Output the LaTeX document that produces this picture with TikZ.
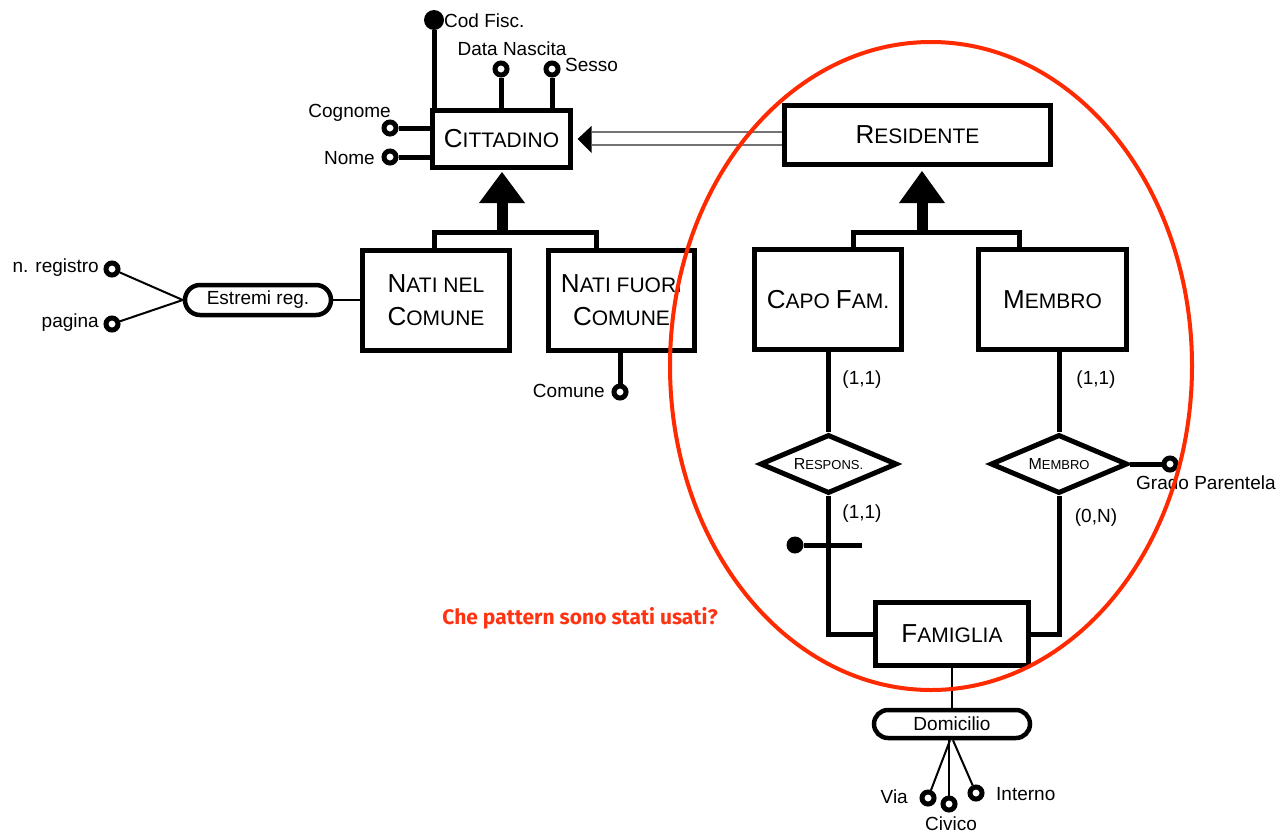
\documentclass[tikz,border=0pt]{standalone}
\usepackage{fontspec}
\setmainfont{Liberation Sans}
\newfontfamily\redfont{Fira Sans}
\usetikzlibrary{shapes.geometric,shapes.misc,calc}
\definecolor{redc}{HTML}{FF2A00}
\definecolor{redt}{HTML}{FF3311}
\newcommand{\ER}[2]{{\fontsize{26}{33}\selectfont #1}{\fontsize{21}{33}\selectfont #2}}
\newcommand{\RL}[2]{{\fontsize{16}{19}\selectfont #1}{\fontsize{13}{19}\selectfont #2}}
\begin{document}
\begin{tikzpicture}[x=1pt,y=-1pt,line join=miter,
  ent/.style={draw,line width=5pt,inner sep=0pt,fill=white,align=center,font=\fontsize{21}{33}\selectfont},
  rel/.style={diamond,draw,line width=5pt,inner sep=0pt,fill=white,aspect=2.3,minimum width=137pt,minimum height=59pt},
  pill/.style={rounded rectangle,draw,line width=4.5pt,inner sep=0pt,fill=white,font=\fontsize{19}{22}\selectfont},
  attr/.style={circle,draw,line width=5pt,fill=white,inner sep=0pt,minimum size=12pt},
  keyattr/.style={circle,fill=black,inner sep=0pt,minimum size=20pt},
  lbl/.style={inner sep=0pt,font=\fontsize{19}{22}\selectfont},
  conn/.style={line width=5pt},
  thinconn/.style={line width=2pt},
  dline/.style={line width=1.5pt,black!55}]
\useasboundingbox (0,0) rectangle (1285,833);
\fill[white] (0,0) rectangle (1285,833);

% entities
\node[ent,minimum width=138pt,minimum height=57pt] (citt) at (501.5,139) {\ER{C}{ITTADINO}};
\node[ent,minimum width=266pt,minimum height=59pt] (res) at (917.5,135) {\ER{R}{ESIDENTE}};
\node[ent,minimum width=147pt,minimum height=100pt] (nnel) at (436,300.5) {\ER{N}{ATI NEL}\\\ER{C}{OMUNE}};
\node[ent,minimum width=146pt,minimum height=100pt] (nfuori) at (621.5,300.5) {\ER{N}{ATI FUORI}\\\ER{C}{OMUNE}};
\node[ent,minimum width=147pt,minimum height=100pt] (capo) at (828,299.5) {\ER{C}{APO} \ER{F}{AM.}};
\node[ent,minimum width=148pt,minimum height=100pt] (memb) at (1052.5,299.5) {\ER{M}{EMBRO}};
\node[ent,minimum width=153pt,minimum height=63pt] (fam) at (952,634) {\ER{F}{AMIGLIA}};

% relationships
\node[rel] (resp) at (828.5,464) {\RL{R}{ESPONS.}};
\node[rel] (mrel) at (1059,464) {\RL{M}{EMBRO}};

% attributes of Cittadino
\node[keyattr] (cf) at (434,20) {};
\node[attr] (dn) at (501,69) {};
\node[attr] (ss) at (552,69) {};
\node[attr] (cg) at (390,128) {};
\node[attr] (nm) at (390,157) {};
\draw[conn] (cf) -- (cf |- citt.north);
\draw[conn] (dn) -- (dn |- citt.north);
\draw[conn] (ss) -- (ss |- citt.north);
\draw[conn] (cg) -- (cg -| citt.west);
\draw[conn] (nm) -- (nm -| citt.west);
\node[lbl,anchor=west] (cfl) at (444,21) {Cod Fisc.};
\node[lbl] (dnl) at (512,49) {Data Nascita};
\node[lbl,anchor=west] (ssl) at (565,65) {Sesso};
\node[lbl,anchor=east] (cgl) at (391,113) {Cognome};
\node[lbl,anchor=east] (nml) at (375,158) {Nome};

% ISA Cittadino
\fill (502,172) -- (525,203) -- (479,203) -- cycle;
\fill (497,202) rectangle (508,233);
\coordinate (b1) at (434,232);
\coordinate (b2) at (596,232);
\draw[conn] (b1 |- nnel.north) -- (b1) -- (b2) -- (b2 |- nfuori.north);

% ISA Residente
\fill (922,171) -- (945,203) -- (899,203) -- cycle;
\fill (917,202) rectangle (928,233);
\coordinate (b3) at (853,232);
\coordinate (b4) at (1019,232);
\draw[conn] (b3 |- capo.north) -- (b3) -- (b4) -- (b4 |- memb.north);

% Residente -> Cittadino (double line)
\draw[dline] ($(res.west)+(0,-3)$) -- ($(citt.east)+(18.5,-7)$);
\draw[dline] ($(res.west)+(0,10)$) -- ($(citt.east)+(18.5,6)$);
\fill ($(citt.east)+(4.5,0)$) -- ($(citt.east)+(18.5,-13)$) -- ($(citt.east)+(18.5,14)$) -- cycle;

% Estremi reg.
\node[pill,minimum width=146pt,minimum height=30pt] (est) at (258,300) {Estremi reg.};
\node[attr] (nreg) at (112,269) {};
\node[attr] (pag) at (112,324) {};
\draw[thinconn] (est.east) -- (est.east -| nnel.west);
\draw[thinconn] (nreg) -- (est.west);
\draw[thinconn] (pag) -- (est.west);
\node[lbl,anchor=east] (nregl) at (99,268) {n. registro};
\node[lbl,anchor=east] (pagl) at (99,323) {pagina};

% Comune
\node[attr] (com) at (620,392) {};
\draw[conn] (com) -- (com |- nfuori.south);
\node[lbl,anchor=east] (coml) at (605,391) {Comune};

% relationships connectors
\draw[conn] (resp.north) -- (resp.north |- capo.south);
\draw[conn] (mrel.north) -- (mrel.north |- memb.south);
\draw[conn] (resp.south) |- (fam.west);
\draw[conn] (mrel.south) |- (fam.east);
\node[keyattr,minimum size=17pt] (rk) at (795,545) {};
\coordinate (rkend) at (862,545);
\draw[conn] (rk) -- (rkend);
\node[attr] (gp) at (1170,464) {};
\draw[conn] (mrel.east) -- (gp);
\node[lbl,anchor=west] (gpl) at (1136,483) {Grado Parentela};

% cardinalities
\node[lbl] (c1) at (862,380) {(1,1)};
\node[lbl] (c2) at (1096,380) {(1,1)};
\node[lbl] (c3) at (862,514) {(1,1)};
\node[lbl] (c4) at (1096,518) {(0,N)};

% Domicilio
\node[pill,minimum width=156pt,minimum height=28pt] (dom) at (952,724) {Domicilio};
\draw[thinconn] (fam.south) -- (dom.north);
\node[attr] (via) at (928,798) {};
\node[attr] (civ) at (949,804) {};
\node[attr] (int) at (976,793) {};
\draw[thinconn] ($(dom.south)+(-2,0)$) -- (via);
\draw[thinconn] ($(dom.south)+(-3,0)$) -- (civ);
\draw[thinconn] ($(dom.south)+(1,0)$) -- (int);
\node[lbl,anchor=east] (vial) at (908,797) {Via};
\node[lbl] (civl) at (951,824) {Civico};
\node[lbl,anchor=west] (intl) at (996,794) {Interno};

% question
\node[inner sep=0pt,text=redt,font=\redfont\bfseries\fontsize{21}{25}\selectfont] (q) at (580,618) {Che pattern sono stati usati?};

% red ellipse
\draw[redc,line width=4pt] (931,366) ellipse [x radius=261pt,y radius=324pt];
\end{tikzpicture}
\end{document}
